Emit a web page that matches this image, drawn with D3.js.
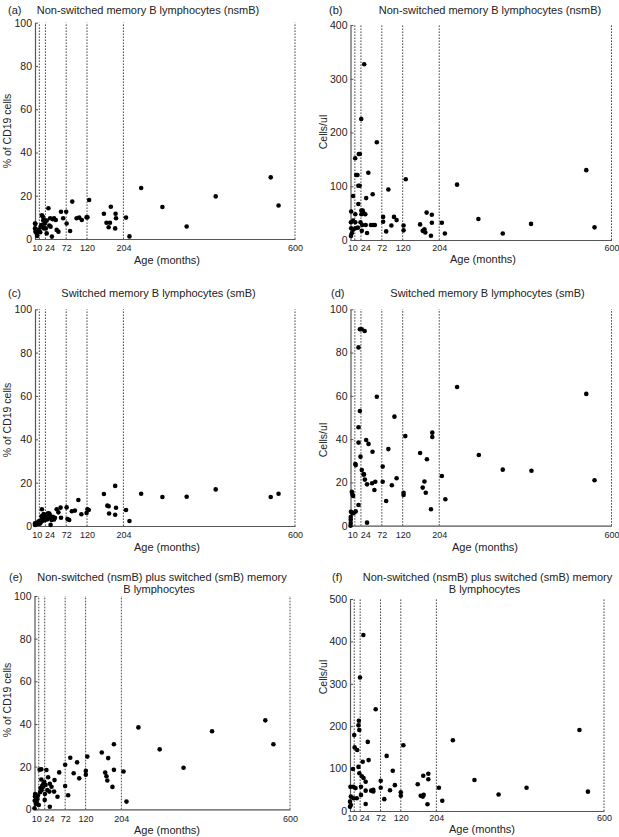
<!DOCTYPE html>
<html>
<head>
<meta charset="utf-8">
<script src="https://cdn.jsdelivr.net/npm/d3@7"></script>
<style>
  html, body { margin: 0; padding: 0; background: #fff; }
  svg { display: block; font-family: "Liberation Sans", Arial, sans-serif; }
</style>
</head>
<body>
<svg id="chart" width="619" height="837"></svg>
<script>
// ---------------- DATA ----------------
const ageTicks = [10, 24, 72, 120, 204, 600];
const ageLines = [10, 24, 72, 120, 204, 600];
const pctTicks = [0, 20, 40, 60, 80, 100];
const nsmbCountTicks = [0, 100, 200, 300, 400];
const smbCountTicks = [0, 20, 40, 60, 80, 100];
const totalCountTicks = [0, 100, 200, 300, 400, 500];

const titles = {
  a: ["Non-switched memory B lymphocytes (nsmB)"],
  b: ["Non-switched memory B lymphocytes (nsmB)"],
  c: ["Switched memory B lymphocytes (smB)"],
  d: ["Switched memory B lymphocytes (smB)"],
  e: ["Non-switched (nsmB) plus switched (smB) memory", "B lymphocytes"],
  f: ["Non-switched (nsmB) plus switched (smB) memory", "B lymphocytes"]
};

// [age in months, value]
const nsmbPct = [[0,7.2],[0,4.9],[1,3.4],[1,7],[2,4.5],[4,2.6],[5,1.4],[6,3.9],[8,4.2],[10,4.2],[12,3.1],[13,5.7],[15,6.5],[16,6.3],[16,11],[18,10.3],[18,5.7],[19,8.5],[21,8.8],[21,4.9],[23,7.2],[25,4.9],[27,8.5],[27,2.6],[31,14.2],[33,6.2],[35,9.6],[36,5.7],[39,1.1],[41,9.1],[44,9.6],[48,8.8],[50,4.2],[54,3.4],[60,12.6],[65,9.6],[72,12.6],[73,7.2],[81,3.7],[86,17.3],[96,9.6],[102,9.9],[108,8.8],[119,10],[121,10],[125,18],[159,11.7],[165,7.5],[170,5.4],[173,7.5],[175,14.9],[185,4.9],[186,11.7],[187,9.6],[210,9.9],[218,1.2],[245,23.6],[294,14.8],[350,5.8],[417,19.7],[544,28.5],[562,15.5]];

const nsmbCount = [[31.5,327],[24.6,225],[60.5,182],[19,160],[21.5,160],[10.8,152],[13,121],[16,121],[41,125],[18,101],[21,101],[6,82],[87,94],[127,113],[51,85],[36,78],[18,67],[1.5,53],[25,55],[28,55],[30,50],[25,48],[34,48],[11,48],[1,33],[6,36],[11,33],[23,33],[27,28],[35,28],[47,28],[52,28],[56,28],[1.5,22],[6,19],[11,22],[17,23],[3,12.5],[1,7.5],[26,17],[38,13],[75,43],[75,34],[82,16],[94,27],[100,43],[106,37],[122,27],[122,18],[160,29],[166,17],[170,20],[172,14],[175,51],[185,8],[187,47],[187,32],[210,32],[217,12],[245,103],[294,39],[350,12],[415,30],[542,130],[561,23.5]];

const smbPct = [[0,0.5],[0,1.2],[2,0.8],[4,1.5],[5,1.2],[8,2],[9,1],[11,2.4],[12,1.2],[14,2],[15,4.5],[16,7.7],[17,3.5],[18,4.8],[19,2.5],[20,5.5],[21,4],[22,4.3],[23,2.8],[24,5],[26,5.1],[27,3.8],[28,3],[30,5.9],[31,3.5],[33,5.8],[34,5.1],[35,4.2],[36,0.5],[38.5,2.8],[41,4.3],[44,3],[46,3.8],[50,7.7],[54,6.3],[59,8.5],[60,3.8],[73,8.6],[75,3.2],[79,2.8],[85,6.8],[92,7.1],[100,12],[107,5.4],[119,6],[121,7.7],[124,7.4],[159,14.8],[167,9.4],[170,9.1],[171,5.8],[185,18.5],[187,8.4],[185,5.2],[210,7.4],[218,2.3],[245,14.9],[294,13.4],[350,13.5],[417,16.9],[544,13.4],[562,14.9]];

const smbCount = [[0,0],[0.5,1.2],[0.5,2.8],[0.5,4],[1,6.4],[3,15.7],[4.5,14.5],[6,13.7],[5,5.7],[8,6],[12,6.6],[11,28.5],[12,28],[18.4,82.4],[21.5,53],[18.4,45.5],[18.4,38.4],[23,31.9],[21.5,90.8],[26,90.8],[32.6,90],[18.4,9.6],[26,25.7],[30,23.7],[31,23.7],[33,21.3],[36,39.6],[41.4,37.8],[38,19.1],[38,1.4],[49.6,19.6],[50.6,34.2],[55,16.5],[57,20.3],[60.5,59.6],[74,27.3],[74,20.3],[82,11.4],[87,35.4],[95,18.7],[101,50.4],[106,21.9],[122,15.2],[122,14.2],[126,41.4],[160,33.6],[166,17.6],[170,20.4],[173,15.2],[175.7,30.7],[185,7.6],[188,43],[188,41],[210,23],[218,12.2],[245,64.1],[295,32.7],[350,25.9],[416,25.4],[542,60.9],[561,21]];

const totalPct = [[0,0.5],[0.5,4],[1,6],[1.5,7.2],[3,2.5],[4,5.5],[5,3.5],[7,4.8],[8,6.5],[10,2],[12,18.6],[13,8],[14,10],[16,14],[16,18.8],[17,9],[18,11],[20,10.6],[21,12],[23,12.9],[24.5,7.2],[24,4.4],[26,11.4],[28,18.4],[30,9],[32,15],[35,8.3],[36,12],[36,1.2],[40,10.6],[46,8.3],[47,13.7],[54,5.9],[58,17.3],[72,20.9],[72,10.9],[79,6.6],[84,24.2],[92,16.9],[100,22],[105,14.5],[120.5,18],[120.5,16.2],[124,24.7],[158,26.6],[173,24],[166,17.2],[169,15.5],[171,13.5],[183,10.5],[186.5,30.5],[186.5,18.5],[209,17.7],[216,3.6],[244,38.4],[294,28.1],[350,19.5],[417,36.6],[542,41.7],[561,30.5]];

const totalCount = [[0,10],[0,22],[1,57],[2,14],[2,34],[8,30],[8,57],[10,179],[11,150],[7,99],[13,54],[16,30],[17,144],[20,104],[20,202],[21,213],[22,191],[22,89],[23.6,315],[26,57],[26,38],[28,82],[31.5,415],[32,78],[37,69],[37,48],[37,16.5],[42,163],[44,120],[30,116],[50,48],[55,50],[55,46],[60.7,240],[72.6,71.5],[72.6,55],[81,28],[86.6,130],[94.5,49],[101,95],[106,61],[120,44],[120,36],[126,155],[160,63],[167,36],[172,34],[174,38],[173,83],[185,88],[185,75],[183,16],[210,55],[218,24],[243,167],[294,73],[351,39],[417,55],[542,191],[562,45.6]];

// ---------------- LAYOUT ----------------
const tickShift = {10: -2.6, 24: 4.2};

const panels = [
  {tag:"(a)", title:titles.a, data:nsmbPct, yMax:100, yTicks:pctTicks, ylabel:"% of CD19 cells",
   x0:35, x1:295, yTop:22.7, yBot:239, tagX:8, tagY:10, titleX:148, titleY:10,
   ylabX:7, ylabY:131, xlabX:167, xlabY:260, xTickGap:5.5},
  {tag:"(b)", title:titles.b, data:nsmbCount, yMax:400, yTicks:nsmbCountTicks, ylabel:"Cells/ul",
   x0:350.5, x1:611.5, yTop:25, yBot:240, tagX:329, tagY:10, titleX:490, titleY:10,
   ylabX:323, ylabY:132, xlabX:483, xlabY:259, xTickGap:5},
  {tag:"(c)", title:titles.c, data:smbPct, yMax:100, yTicks:pctTicks, ylabel:"% of CD19 cells",
   x0:35, x1:295, yTop:309.3, yBot:526, tagX:8, tagY:293, titleX:158.5, titleY:293,
   ylabX:7, ylabY:420, xlabX:167, xlabY:547, xTickGap:5.5},
  {tag:"(d)", title:titles.d, data:smbCount, yMax:100, yTicks:smbCountTicks, ylabel:"Cells/ul",
   x0:350.5, x1:611.5, yTop:309.3, yBot:525.7, tagX:331, tagY:293, titleX:487.5, titleY:293,
   ylabX:323, ylabY:440, xlabX:485, xlabY:547, xTickGap:5.5},
  {tag:"(e)", title:titles.e, data:totalPct, yMax:100, yTicks:pctTicks, ylabel:"% of CD19 cells",
   x0:34.5, x1:290, yTop:596, yBot:809.3, tagX:9, tagY:577, titleX:162, titleY:577,
   ylabX:7, ylabY:700, xlabX:167, xlabY:830, xTickGap:6},
  {tag:"(f)", title:titles.f, data:totalCount, yMax:500, yTicks:totalCountTicks, ylabel:"Cells/ul",
   x0:350, x1:604, yTop:599, yBot:811, tagX:332, tagY:577, titleX:487.5, titleY:577,
   ylabX:323, ylabY:677, xlabX:482, xlabY:829, xTickGap:4}
];

const svg = d3.select("#chart");
const textCol = "#222";
const axisCol = "#555";

panels.forEach(p => {
  const g = svg.append("g");
  const x = d3.scaleLinear().domain([0, 600]).range([p.x0, p.x1]);
  const y = d3.scaleLinear().domain([0, p.yMax]).range([p.yBot, p.yTop]);

  // dotted vertical age lines
  g.selectAll("line.age").data(ageLines).enter().append("line")
    .attr("x1", d => x(d)).attr("x2", d => x(d))
    .attr("y1", y(0)).attr("y2", y(p.yMax))
    .attr("stroke", "#333").attr("stroke-width", 0.9)
    .attr("stroke-dasharray", "1.6,1.4");

  // y axis
  const ya = g.append("g").attr("transform", `translate(${x(0)},0)`)
    .call(d3.axisLeft(y).tickValues(p.yTicks).tickSizeInner(-3).tickSizeOuter(0).tickPadding(3));
  ya.select(".domain").attr("stroke", axisCol).attr("stroke-width", 1.2);
  ya.selectAll(".tick line").attr("stroke", axisCol);
  ya.selectAll(".tick text").attr("fill", textCol).style("font-size", "10.5px")
    .style("font-family", '"Liberation Sans", Arial, sans-serif');

  // x axis
  const xa = g.append("g").attr("transform", `translate(0,${y(0)})`)
    .call(d3.axisBottom(x).tickValues(ageTicks).tickSize(0).tickPadding(p.xTickGap));
  xa.select(".domain").attr("stroke", axisCol).attr("stroke-width", 1.2);
  xa.selectAll(".tick text").attr("fill", textCol).style("font-size", "9px")
    .style("font-family", '"Liberation Sans", Arial, sans-serif')
    .attr("dx", d => tickShift[d] || 0);

  // points
  g.selectAll("circle").data(p.data).enter().append("circle")
    .attr("cx", d => x(d[0])).attr("cy", d => y(d[1]))
    .attr("r", 2.3).attr("fill", "#000");

  // tag
  g.append("text").attr("x", p.tagX).attr("y", p.tagY).attr("dy", "0.35em")
    .attr("fill", textCol).style("font-size", "11px").text(p.tag);

  // title lines
  p.title.forEach((t, i) => {
    g.append("text").attr("x", p.titleX + (i > 0 ? -3 : 0)).attr("y", p.titleY + i * 12.6).attr("dy", "0.35em")
      .attr("text-anchor", "middle").attr("fill", textCol).style("font-size", "11px").text(t);
  });

  // y label
  g.append("text").attr("transform", `translate(${p.ylabX},${p.ylabY}) rotate(-90)`)
    .attr("dy", "0.35em").attr("text-anchor", "middle").attr("fill", textCol)
    .style("font-size", "10.5px").text(p.ylabel);

  // x label
  g.append("text").attr("x", p.xlabX).attr("y", p.xlabY).attr("dy", "0.35em")
    .attr("text-anchor", "middle").attr("fill", textCol).style("font-size", "11px").text("Age (months)");
});
</script>
</body>
</html>
